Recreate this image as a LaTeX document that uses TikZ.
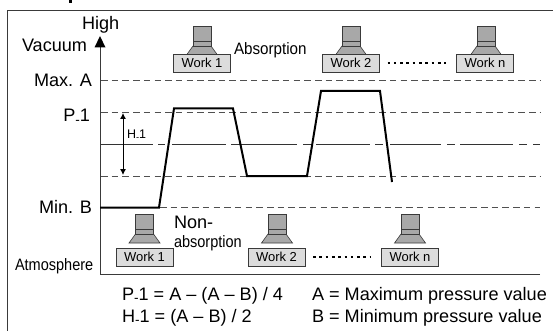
\documentclass[tikz,border=0pt]{standalone}
\usepackage{fontspec}
\usepackage{graphicx}
\setmainfont{Liberation Sans}
\usetikzlibrary{arrows.meta}
\definecolor{boxfill}{HTML}{DCDCDC}
\definecolor{nozfill}{HTML}{A8A8A8}
\definecolor{edge}{HTML}{3A3A3A}
\definecolor{dashc}{HTML}{505050}
\newcommand{\lowdash}{\raisebox{-.12em}{\scalebox{.75}{-}}}
\tikzset{
  x=1pt,y=-1pt,
  every node/.style={inner sep=0pt,outer sep=0pt,text=black},
  lab/.style={font=\fontsize{18.1}{20}\selectfont},
  labw/.style={lab,anchor=base west},
  labe/.style={lab,anchor=base east},
  workbox/.style={draw=edge,fill=boxfill,line width=.9pt,minimum width=57pt,minimum height=18pt,font=\fontsize{13}{14}\selectfont},
  noz/.style={draw=edge,fill=nozfill,line width=.9pt},
  level/.style={draw=dashc,line width=.9pt,dash pattern=on 6.5pt off 4.2pt},
  midline/.style={draw=black!80,line width=.9pt},
  wave/.style={draw=black,line width=2pt,line join=miter},
  dots/.style={draw=black,line width=2.6pt,dash pattern=on 2.6pt off 3.7pt},
  nozzle/.pic={
    \fill[nozfill,draw=edge,line width=.6pt] (-15.5,17) -- (-9,8) -- (9,8) -- (15.5,17) -- cycle;
    \draw[noz] (-9,-12) rectangle (9,8);
    \draw[draw=edge,line width=.9pt] (-9,3) -- (9,3);
  }
}
\begin{document}
\begin{tikzpicture}
\useasboundingbox (0,0) rectangle (553,331);
% frame
\coordinate (fb) at (7.5,331);
\coordinate (ft) at (7.5,10.5);
\coordinate (fr) at (553,10.5);
\draw[draw=edge,line width=1pt] (fb) -- (ft) -- (fr);
\fill[black] (69,0) rectangle (72,3);
% levels
\draw[level] (101,80.5) coordinate (maxl) -- (540,80.5) coordinate (maxr);
\draw[level] (101,112.5) coordinate (pl) -- (540,112.5) coordinate (pr);
\draw[level] (101,176) coordinate (ll) -- (540,176) coordinate (lr);
\draw[level] (160,207.5) coordinate (minl) -- (540,207.5) coordinate (minr);
% middle line with gaps
\draw[midline] (101,144) -- (153,144) (158,144) -- (165,144) (172,144) -- (226,144)
  (231,144) -- (297,144) (303,144) -- (312,144) (316,144) -- (370,144)
  (375,144) -- (383,144) (390,144) -- (441,144) (447,144) -- (455,144)
  (460,144) -- (513,144) (519,144) -- (527,144) (533,144) -- (540,144);
% axes
\coordinate (orig) at (100,274);
\coordinate (ytip) at (100,36);
\coordinate (xend) at (540,274);
\draw[draw=edge,line width=.9pt] (xend) -- (orig) -- (100,46);
\draw[draw=none,fill=black] (ytip) -- (105.5,47.5) -- (94.5,47.5) -- cycle;
% H-1 arrow
\coordinate (ha) at (123,113);
\coordinate (hb) at (123,175);
\draw[black,line width=.9pt,{Latex[length=6pt,width=6pt]}-{Latex[length=6pt,width=6pt]}] (ha) -- (hb);
% waveform
\draw[wave] (100,207.5) -- (159,207.5) -- (174,108.5) -- (233,108.5) -- (247,176) -- (307,176) -- (321,91) -- (380,91) -- (392,182);
% top works
\pic at (202,38) {nozzle};
\node[workbox] (w1t) at (202,63) {Work 1};
\pic at (351,38) {nozzle};
\node[workbox] (w2t) at (351,63) {Work 2};
\pic at (486,38) {nozzle};
\node[workbox] (wnt) at (485,63) {Work n};
% bottom works
\pic at (144.5,226) {nozzle};
\node[workbox] (w1b) at (144.5,257) {Work 1};
\pic at (277,226) {nozzle};
\node[workbox] (w2b) at (276.5,257) {Work 2};
\pic at (410,226) {nozzle};
\node[workbox] (wnb) at (410,257) {Work n};
\draw[dots,shorten <=8pt,shorten >=11pt] (w2t.east) -- (wnt.west);
\draw[dots,shorten <=8pt,shorten >=11pt] (w2b.east) -- (wnb.west);
% labels
\node[labw] (high) at (82,30) {High};
\node[labw] (vac) at (22,52) {Vacuum};
\node[labe] (maxa) at (92,87) {Max. A};
\node[labe] (pone) at (90,122) {P\lowdash1};
\node[labe] (minb) at (92,213) {Min. B};
\node[anchor=base west,font=\fontsize{12.5}{14}\selectfont] (hone) at (127,139) {H\lowdash1};
\node[anchor=base west,font=\fontsize{16.5}{18}\selectfont] (atm) at (15,270) {\scalebox{.88}[1]{Atmosphere}};
\node[anchor=base west,font=\fontsize{16.5}{18}\selectfont] (abs) at (234,55) {\scalebox{.92}[1]{Absorption}};
\node[labw] (non) at (174,228) {Non-};
\node[anchor=base west,font=\fontsize{16.5}{18}\selectfont] (nabs) at (174,247) {\scalebox{.88}[1]{absorption}};
\node[labw] (f1) at (122,300) {P\lowdash1 = A – (A – B) / 4};
\node[labw] (f2) at (122,322) {H\lowdash1 = (A – B) / 2};
\node[labw] (f3) at (312,300) {A = Maximum pressure value};
\node[labw] (f4) at (312,322) {B = Minimum pressure value};
\end{tikzpicture}
\end{document}
